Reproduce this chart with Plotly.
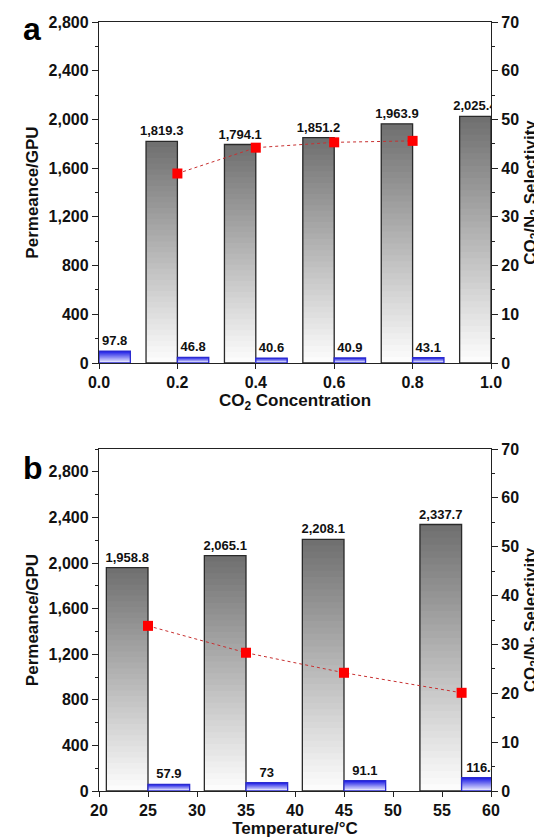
import plotly.graph_objects as go

# ---------------- data (panel a) ----------------
co2_conc_a = [0.2, 0.4, 0.6, 0.8, 1.0]
co2_perm_a = [1819.3, 1794.1, 1851.2, 1963.9, 2025.4]
n2_conc_a = [0.0, 0.2, 0.4, 0.6, 0.8]
n2_perm_a = [97.8, 46.8, 40.6, 40.9, 43.1]
sel_conc_a = [0.2, 0.4, 0.6, 0.8]
sel_a = [38.9, 44.2, 45.3, 45.6]

# ---------------- data (panel b) ----------------
temps_b = [25, 35, 45, 57]
co2_perm_b = [1958.8, 2065.1, 2208.1, 2337.7]
n2_perm_b = [57.9, 73, 91.1, 116.4]
sel_b = [33.8, 28.3, 24.2, 20.1]

# tick labels
xticks_a = [0.0, 0.2, 0.4, 0.6, 0.8, 1.0]
xticks_b = [20, 25, 30, 35, 40, 45, 50, 55, 60]
perm_ticks = [0, 400, 800, 1200, 1600, 2000, 2400, 2800]
sel_ticks = [0, 10, 20, 30, 40, 50, 60, 70]

FONT = "Liberation Sans, Arial, sans-serif"
AX = "#222222"
N = 40

fig = go.Figure()


def mix(c1, c2, t):
    return "rgb(%d,%d,%d)" % tuple(round(a + (b - a) * t) for a, b in zip(c1, c2))


def gradient_bars(x, vals, width, offset, top, bottom, line_color, xa, ya, text_size=13):
    # stacked from full height (darkest) down to shortest (lightest)
    for k in range(N):
        frac = (N - k) / N
        fig.add_trace(go.Bar(
            x=x, y=[v * frac for v in vals], width=width, offset=offset,
            marker=dict(color=mix(top, bottom, k / (N - 1)), line=dict(width=0)),
            xaxis=xa, yaxis=ya, hoverinfo="skip", showlegend=False,
        ))
    fig.add_trace(go.Bar(
        x=x, y=vals, width=width, offset=offset,
        marker=dict(color="rgba(0,0,0,0)", line=dict(color=line_color, width=1.3)),
        text=[f"{v:,}" for v in vals], textposition="outside", constraintext="none",
        cliponaxis=True, textfont=dict(family=FONT, size=text_size, color="#111", weight="bold"),
        xaxis=xa, yaxis=ya, showlegend=False,
    ))


GREY_TOP, GREY_BOT = (112, 112, 112), (252, 252, 252)
BLUE_TOP, BLUE_BOT = (25, 25, 230), (242, 242, 255)

# panel a
gradient_bars(co2_conc_a, co2_perm_a, 0.08, -0.08, GREY_TOP, GREY_BOT, "#2a2a2a", "x", "y")
gradient_bars(n2_conc_a, n2_perm_a, 0.08, 0.0, BLUE_TOP, BLUE_BOT, "#2b2bd0", "x", "y")
fig.add_trace(go.Scatter(
    x=sel_conc_a, y=sel_a, mode="lines+markers", xaxis="x", yaxis="y2",
    line=dict(color="#c83030", width=1, dash="dot"),
    marker=dict(symbol="square", size=10, color="#ff0000"), showlegend=False,
))

# panel b
gradient_bars(temps_b, co2_perm_b, 4.25, -4.25, GREY_TOP, GREY_BOT, "#2a2a2a", "x2", "y3")
gradient_bars(temps_b, n2_perm_b, 4.25, 0.0, BLUE_TOP, BLUE_BOT, "#2b2bd0", "x2", "y3")
fig.add_trace(go.Scatter(
    x=temps_b, y=sel_b, mode="lines+markers", xaxis="x2", yaxis="y4",
    line=dict(color="#c83030", width=1, dash="dot"),
    marker=dict(symbol="square", size=10, color="#ff0000"), showlegend=False,
))

W, H = 542, 837
ml, mr, mt, mb = 91, 59, 14, 54
ph = H - mt - mb


def py(px):
    return (H - mb - px) / ph


dom_a = [py(355), 1.0]
dom_b = [0.0, py(441)]

tickfont = dict(family=FONT, size=16, color="#111", weight="bold")
titlefont = dict(family=FONT, size=17, color="#111", weight="bold")

common = dict(showgrid=False, zeroline=False, showline=True, linecolor=AX, linewidth=1.3,
              ticks="outside", ticklen=6, tickwidth=1.3, tickcolor=AX, tickfont=tickfont,
              automargin=False)
xcommon = dict(common, ticklen=5)

fig.update_layout(
    width=W, height=H, margin=dict(l=ml, r=mr, t=mt, b=mb),
    paper_bgcolor="white", plot_bgcolor="white", barmode="overlay",
    font=dict(family=FONT, weight="bold"),
    xaxis=dict(domain=[0, 1], anchor="y", range=[0, 1], tickvals=xticks_a, tickformat=".1f",
               mirror=True, title=dict(text="CO<sub>2</sub> Concentration", font=titlefont, standoff=3),
               **xcommon),
    yaxis=dict(domain=dom_a, anchor="x", range=[0, 2800], tickvals=perm_ticks, tickformat=",d",
               minor=dict(dtick=200, ticks="outside", ticklen=3, tickcolor=AX, showgrid=False),
               title=dict(text="Permeance/GPU", font=titlefont, standoff=5), **common),
    yaxis2=dict(overlaying="y", anchor="x", side="right", range=[0, 70], tickvals=sel_ticks,
                minor=dict(dtick=5, ticks="outside", ticklen=3, tickcolor=AX, showgrid=False),
                title=dict(text="CO<sub>2</sub>/N<sub>2</sub> Selectivity", font=titlefont, standoff=5),
                **common),
    xaxis2=dict(domain=[0, 1], anchor="y3", range=[20, 60], tickvals=xticks_b, mirror=True,
                title=dict(text="Temperature/°C", font=titlefont, standoff=2), **xcommon),
    yaxis3=dict(domain=dom_b, anchor="x2", range=[0, 3000], tickvals=perm_ticks, tickformat=",d",
                minor=dict(dtick=200, ticks="outside", ticklen=3, tickcolor=AX, showgrid=False),
                title=dict(text="Permeance/GPU", font=titlefont, standoff=5), **common),
    yaxis4=dict(overlaying="y3", anchor="x2", side="right", range=[0, 70], tickvals=sel_ticks,
                minor=dict(dtick=5, ticks="outside", ticklen=3, tickcolor=AX, showgrid=False),
                title=dict(text="CO<sub>2</sub>/N<sub>2</sub> Selectivity", font=titlefont, standoff=5),
                **common),
    annotations=[
        dict(text="a", xref="paper", yref="paper", x=(13 - ml) / (W - ml - mr), y=py(21),
             xanchor="left", yanchor="middle", showarrow=False,
             font=dict(family=FONT, size=32, color="#000", weight="bold")),
        dict(text="b", xref="paper", yref="paper", x=(13 - ml) / (W - ml - mr), y=py(460),
             xanchor="left", yanchor="middle", showarrow=False,
             font=dict(family=FONT, size=32, color="#000", weight="bold")),
    ],
)

fig.write_html("out.html")
